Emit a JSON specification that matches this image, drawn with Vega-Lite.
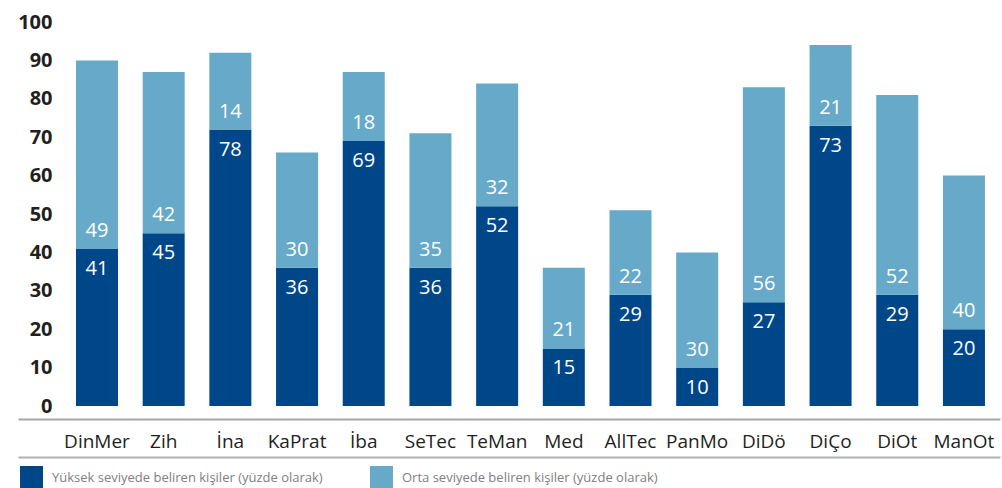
{
  "$schema": "https://vega.github.io/schema/vega-lite/v6.json",
  "autosize": "none",
  "width": 982,
  "height": 384,
  "padding": {"left": 18, "top": 22, "right": 2, "bottom": 82},
  "background": "white",
  "config": {"view": {"stroke": null}, "font": "Open Sans"},
  "data": {
    "values": [
      {"cat": "DinMer", "high": 41, "mid": 49, "highLabel": 41, "midLabel": 49},
      {"cat": "Zih", "high": 45, "mid": 42, "highLabel": 45, "midLabel": 42},
      {"cat": "İna", "high": 72, "mid": 20, "highLabel": 78, "midLabel": 14},
      {"cat": "KaPrat", "high": 36, "mid": 30, "highLabel": 36, "midLabel": 30},
      {"cat": "İba", "high": 69, "mid": 18, "highLabel": 69, "midLabel": 18},
      {"cat": "SeTec", "high": 36, "mid": 35, "highLabel": 36, "midLabel": 35},
      {"cat": "TeMan", "high": 52, "mid": 32, "highLabel": 52, "midLabel": 32},
      {"cat": "Med", "high": 15, "mid": 21, "highLabel": 15, "midLabel": 21},
      {"cat": "AllTec", "high": 29, "mid": 22, "highLabel": 29, "midLabel": 22},
      {"cat": "PanMo", "high": 10, "mid": 30, "highLabel": 10, "midLabel": 30},
      {"cat": "DiDö", "high": 27, "mid": 56, "highLabel": 27, "midLabel": 56},
      {"cat": "DiÇo", "high": 73, "mid": 21, "highLabel": 73, "midLabel": 21},
      {"cat": "DiOt", "high": 29, "mid": 52, "highLabel": 29, "midLabel": 52},
      {"cat": "ManOt", "high": 20, "mid": 40, "highLabel": 20, "midLabel": 40}
    ]
  },
  "encoding": {
    "x": {
      "field": "cat", "type": "nominal", "sort": null,
      "scale": {"paddingInner": 0.37, "paddingOuter": 0.5475, "align": 0.794},
      "axis": {"orient": "bottom", "offset": 13, "title": null, "labelAngle": 0, "ticks": false, "tickSize": 0,
        "domainColor": "#a6a6a6", "domainWidth": 2, "labelFont": "Open Sans", "labelFontSize": 19,
        "labelColor": "#231f20", "labelPadding": 13, "labelLimit": 200}
    }
  },
  "layer": [
    {
      "transform": [{"fold": ["high", "mid"], "as": ["key", "value"]}],
      "mark": {"type": "bar"},
      "encoding": {
        "y": {
          "field": "value", "type": "quantitative", "stack": "zero",
          "scale": {"domain": [0, 100], "nice": false},
          "axis": {"orient": "left", "offset": -34, "title": null, "domain": false, "ticks": false, "tickSize": 0,
            "grid": false, "labelPadding": 0, "values": [0, 10, 20, 30, 40, 50, 60, 70, 80, 90, 100],
            "labelFont": "Open Sans", "labelFontWeight": "bold", "labelFontSize": 20, "labelColor": "#231f20"}
        },
        "color": {
          "field": "key", "type": "nominal",
          "scale": {"domain": ["high", "mid"], "range": ["#00478a", "#67a9c9"]},
          "legend": {"orient": "none", "legendX": 2, "legendY": 444, "direction": "horizontal", "title": null,
            "symbolType": "square", "symbolSize": 529, "symbolStrokeWidth": 0, "symbolOpacity": 1,
            "labelFont": "Open Sans", "labelFontSize": 13, "labelColor": "#808080",
            "labelOffset": 9, "labelLimit": 500, "columnPadding": 47,
            "labelExpr": "datum.value == 'high' ? 'Yüksek seviyede beliren kişiler (yüzde olarak)' : 'Orta seviyede beliren kişiler (yüzde olarak)'"}
        },
        "order": {"field": "key", "sort": "ascending"}
      }
    },
    {
      "mark": {"type": "text", "dy": 20, "color": "white", "fontSize": 20, "font": "Open Sans", "baseline": "middle"},
      "encoding": {
        "x": {"field": "cat", "type": "nominal", "sort": null, "axis": null},
        "y": {"field": "high", "type": "quantitative",
          "axis": {"orient": "left", "offset": -34, "title": null, "domain": false, "ticks": false, "tickSize": 0,
            "grid": false, "labelPadding": 0, "values": [0, 10, 20, 30, 40, 50, 60, 70, 80, 90, 100],
            "labelFont": "Open Sans", "labelFontWeight": "bold", "labelFontSize": 20, "labelColor": "#231f20"}},
        "text": {"field": "highLabel"}
      }
    },
    {
      "mark": {"type": "text", "dy": -18, "color": "white", "fontSize": 20, "font": "Open Sans", "baseline": "middle"},
      "encoding": {
        "x": {"field": "cat", "type": "nominal", "sort": null,
          "axis": {"orient": "bottom", "offset": 51, "labels": false, "ticks": false, "tickSize": 0,
            "domainColor": "#b3b3b3", "domainWidth": 2, "title": null}},
        "y": {"field": "high", "type": "quantitative",
          "axis": {"orient": "left", "offset": -34, "title": null, "domain": false, "ticks": false, "tickSize": 0,
            "grid": false, "labelPadding": 0, "values": [0, 10, 20, 30, 40, 50, 60, 70, 80, 90, 100],
            "labelFont": "Open Sans", "labelFontWeight": "bold", "labelFontSize": 20, "labelColor": "#231f20"}},
        "text": {"field": "midLabel"}
      }
    }
  ],
  "resolve": {"axis": {"x": "independent"}}
}
